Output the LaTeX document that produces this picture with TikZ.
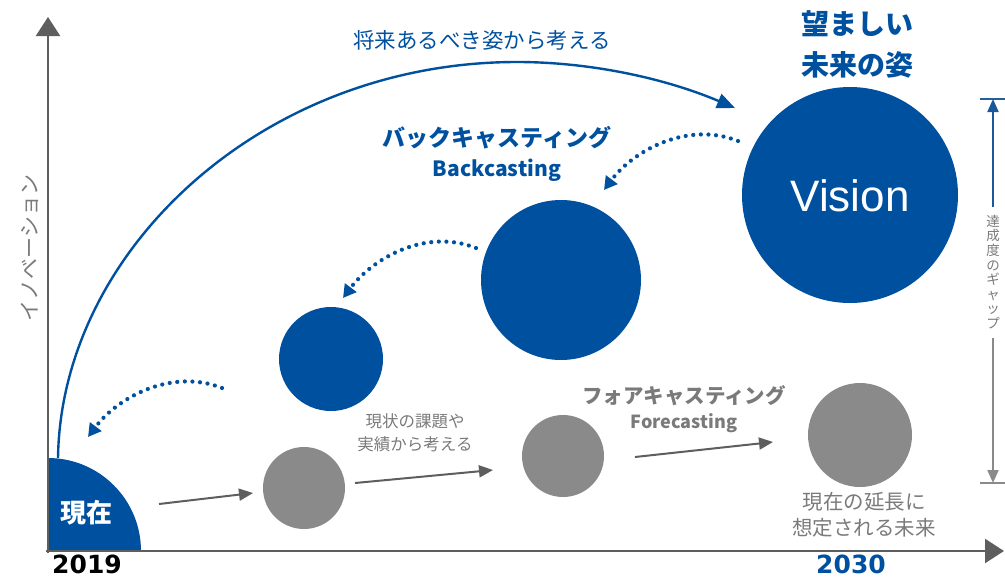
\documentclass[tikz,border=0pt]{standalone}
\usepackage{fontspec}
\setmainfont{Liberation Sans}
\newfontfamily\jp{Noto Sans CJK JP}
\newfontfamily\dv{DejaVu Sans}
\usetikzlibrary{arrows.meta}
\definecolor{vblue}{HTML}{0050A0}
\definecolor{cgray}{HTML}{8A8A8A}
\definecolor{agray}{HTML}{5E5E5E}
\definecolor{tgray}{HTML}{7A7A7A}
\newcommand\myfs[1]{\fontsize{#1}{#1}\selectfont}
\begin{document}
\begin{tikzpicture}[x=1pt,y=-1pt,
  blob/.style={circle, inner sep=0pt, minimum size=#1},
  bluefill/.style={fill=vblue, draw=none},
  grayfill/.style={fill=cgray, draw=none},
  axis/.style={draw=agray, line width=2.4pt, -{Triangle[length=19pt,width=24pt]}},
  grayarrow/.style={draw=agray, line width=2pt, -{Triangle[length=14pt,width=12pt]}},
  dotarc/.style={draw=vblue, line width=4.2pt, line cap=round, dash pattern=on 0pt off 7.6pt, -{Triangle[length=13pt,width=14pt]}},
  bigarc/.style={draw=vblue, line width=2.4pt, -{Triangle[length=18pt,width=15pt]}},
]
\useasboundingbox (0,0) rectangle (1005,581);

% present quarter circle
\begin{scope}
  \clip (48,551) rectangle (160,440);
  \node[blob=186pt, bluefill] (now) at (48,551) {};
\end{scope}
\node[text=white, font=\jp\bfseries\myfs{26}] (nowt) at (86,513) {現在};

% axes
\coordinate (o) at (48,553);
\coordinate (ytop) at (48,17);
\coordinate (ox) at (46,551);
\coordinate (xend) at (1004,551);
\draw[axis] (o) -- (ytop);
\draw[axis] (ox) -- (xend);

\node[font=\dv\bfseries\myfs{25}, text=black] (y2019) at (87,564) {2019};
\node[font=\dv\bfseries\myfs{25}, text=vblue] (y2030) at (851,564) {2030};
\node[font=\jp\myfs{21}, text=tgray, rotate=90] (ylab) at (30,248) {イノベーション};

% circles
\node[blob=104pt, bluefill] (c1) at (331,359) {};
\node[blob=160pt, bluefill] (c2) at (561,280) {};
\node[blob=216pt, bluefill] (vis) at (850,195) {};
\node[text=white, font=\myfs{44}] (vist) at (850,196) {Vision};
\node[blob=82pt, grayfill] (g1) at (304,488) {};
\node[blob=82pt, grayfill] (g2) at (563,456) {};
\node[blob=104pt, grayfill] (g3) at (860,435) {};

% big arc
\coordinate (as) at (58,458);
\coordinate (am) at (517,62);
\coordinate (ae) at (735,108);
\draw[bigarc] (as) .. controls (61,250) and (263,62) .. (am) .. controls (592,62) and (667,79) .. (ae);
\node[font=\jp\myfs{21.5}, text=vblue] (t1) at (482,40) {将来あるべき姿から考える};

% top label
\node[font=\jp\bfseries\myfs{28}, text=vblue] (t2a) at (857,24) {望ましい};
\node[font=\jp\bfseries\myfs{28}, text=vblue] (t2b) at (857,65) {未来の姿};

% backcasting
\node[font=\jp\bfseries\myfs{23}, text=vblue] (bc1) at (497,138) {バックキャスティング};
\node[font=\jp\bfseries\myfs{21}, text=vblue] (bc2) at (497,170) {Backcasting};

% dotted arcs
\coordinate (d3s) at (738,141);
\coordinate (d3e) at (604,190);
\coordinate (d2s) at (476,248);
\coordinate (d2e) at (343,298);
\coordinate (d1s) at (222,388);
\coordinate (d1e) at (88,437);
\draw[dotarc] (d3s) .. controls +(-50,-20) and +(30,-40) .. (d3e);
\draw[dotarc] (d2s) .. controls +(-50,-20) and +(30,-40) .. (d2e);
\draw[dotarc] (d1s) .. controls +(-50,-20) and +(30,-40) .. (d1e);

% forecasting arrows
\coordinate (f1s) at (159,504);
\coordinate (f1e) at (253,493);
\coordinate (f2s) at (355,483);
\coordinate (f2e) at (493,470);
\coordinate (f3s) at (635,457);
\coordinate (f3e) at (773,442);
\draw[grayarrow] (f1s) -- (f1e);
\draw[grayarrow] (f2s) -- (f2e);
\draw[grayarrow] (f3s) -- (f3e);

\node[font=\jp\myfs{16.5}, text=tgray, align=center] (t3) at (415,433) {現状の課題や\\[7pt]実績から考える};
\node[font=\jp\bfseries\myfs{20.5}, text=tgray] (fc1) at (684,396) {フォアキャスティング};
\node[font=\jp\bfseries\myfs{18}, text=tgray] (fc2) at (684,423) {Forecasting};
\node[font=\jp\myfs{20.5}, text=tgray, align=center] (t4) at (864,515) {現在の延長に\\[5pt]想定される未来};

% gap arrow
\coordinate (gt) at (993,99);
\coordinate (gtb) at (993,207);
\coordinate (gb) at (993,483);
\coordinate (gbb) at (993,338);
\draw[draw=vblue!70!gray, line width=1.3pt] (980,99) -- (1005,99);
\draw[draw=cgray, line width=1.3pt] (980,483) -- (1005,483);
\draw[draw=vblue!80!gray, line width=2pt, -{Triangle[length=13pt,width=11pt]}] (gtb) -- (gt);
\draw[draw=cgray, line width=2pt, -{Triangle[length=13pt,width=11pt]}] (gbb) -- (gb);
\node[font=\jp\fontsize{13.5}{14.6}\selectfont, text=tgray, align=center, inner sep=0pt] (gap) at (993,272) {達\\成\\度\\の\\ギ\\ャ\\ッ\\プ};
\end{tikzpicture}
\end{document}
